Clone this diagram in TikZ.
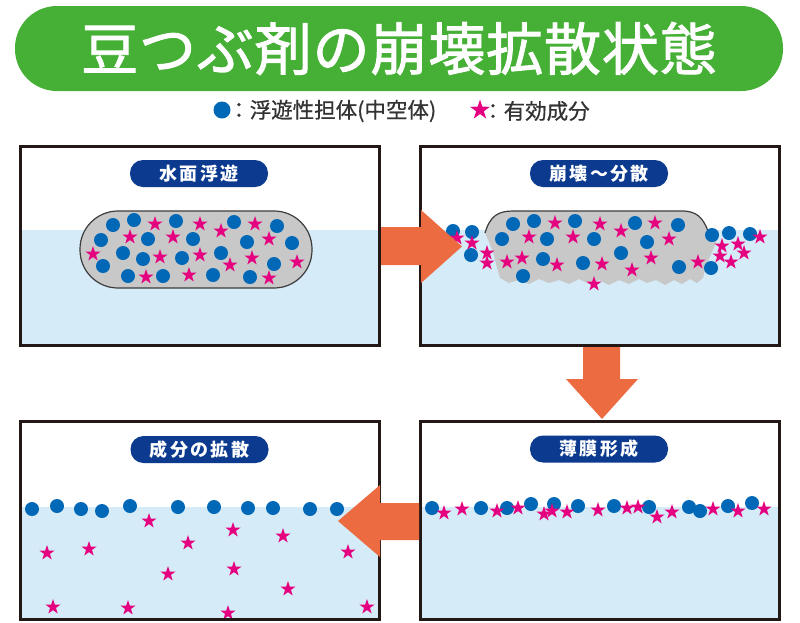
\documentclass[tikz,border=0pt]{standalone}
\usepackage{fontspec}
\usetikzlibrary{shapes.geometric}

\newfontfamily\jptitle{Noto Sans CJK JP}[LetterSpace=1.5, FakeBold=1.6]
\newfontfamily\jplabel{Noto Sans CJK JP}[LetterSpace=13]
\newfontfamily\jplegend{Noto Sans CJK JP}[FakeBold=0.6]

\definecolor{titlegreen}{HTML}{45B035}
\definecolor{labelnavy}{HTML}{0B3A8E}
\definecolor{carrier}{HTML}{0068B7}
\definecolor{agent}{HTML}{E4007F}
\definecolor{floworange}{HTML}{EC6B40}
\definecolor{water}{HTML}{D5EBF8}
\definecolor{capsulegray}{HTML}{C8C8C8}
\definecolor{capsuleline}{HTML}{3C3C3C}
\definecolor{framecol}{HTML}{231815}
\definecolor{legendgray}{HTML}{333333}

\tikzset{
  titlebar/.style={fill=titlegreen, rounded corners=42pt, minimum width=768pt,
    minimum height=85pt, inner sep=0pt, text=white,
    font={\jptitle\fontsize{57}{60}\selectfont}},
  stagelabel/.style={fill=labelnavy, rounded corners=13pt, minimum width=138pt,
    minimum height=27pt, inner sep=0pt, text=white,
    font={\jplabel\bfseries\fontsize{18}{20}\selectfont}},
  legendtext/.style={anchor=west, inner sep=0pt, text=legendgray,
    font={\jplegend\fontsize{21.5}{24}\selectfont}},
  carrierdot/.style={circle, fill=carrier, minimum size=14pt, inner sep=0pt},
  agentstar/.style={star, star points=5, star point ratio=2.6, fill=agent,
    minimum size=16pt, inner sep=0pt},
  panelframe/.style={draw=framecol, line width=3pt},
  waterfill/.style={fill=water},
  capsulebody/.style={fill=capsulegray, draw=capsuleline, line width=1.2pt},
  flowarrow/.style={fill=floworange},
}

\begin{document}
\begin{tikzpicture}[x=1pt, y=-1pt]
\useasboundingbox (0,0) rectangle (800,622);
\fill[white] (0,0) rectangle (800,622);

% ---- title bar and legend ----
\node[titlebar] (title) at (399,48.5) {豆つぶ剤の崩壊拡散状態};

\node[carrierdot, minimum size=17pt] (legdot) at (222,110) {};
\node[legendtext] (legdottext) at (228,111) {：浮遊性担体(中空体)};
\node[agentstar, minimum size=21pt] (legstar) at (480,110) {};
\node[legendtext] (legstartext) at (482,111) {：有効成分};

% ---- panel 1: floating on the water surface ----
\fill[waterfill] (20.5,230) rectangle (379.5,345.5);
\draw[capsulebody, rounded corners=38pt] (80,211) rectangle (312,288);
\foreach \x/\y [count=\i] in {113/225,134/220,176/221,234/222,277/226,101/240,
    148/239,193/239,247/242,292/243,123/253,143/259,182/258,221/253,103/266,
    274/264,128/276,163/276,213/275,250/277}
  \node[carrierdot] (pa-d\i) at (\x,\y) {};
\foreach \x/\y [count=\i] in {155/224,200/224,221/231,255/224,130/237,173/237,
    269/239,93/254,160/257,200/255,252/258,297/262,230/265,146/277,189/275,269/278}
  \node[agentstar] (pa-s\i) at (\x,\y) {};
\draw[panelframe] (20.5,146.5) rectangle (379.5,345.5);
\node[stagelabel] (labela) at (199,173.5) {水面浮遊};

% ---- panel 2: breaking up and dispersing ----
\fill[waterfill] (420.5,230) rectangle (779.5,345.5);
\fill[capsulegray] (485,233) .. controls (490,216) and (498,211) .. (513,211)
  -- (682,211) .. controls (697,211) and (703,218) .. (708,231)
  -- (718,238) -- (712,252) -- (706,266) -- (703,278)
  -- (697,283) -- (690,279) -- (682,284) -- (674,280) -- (665,285)
  -- (656,280) -- (647,283) -- (639,279) -- (629,284) -- (619,280)
  -- (609,285) -- (599,280) -- (589,284) -- (579,279) -- (569,284)
  -- (559,280) -- (549,283) -- (539,279) -- (529,284) -- (519,280)
  -- (509,283) -- (500,278) -- (497,268) -- (494,255) -- (489,242) -- cycle;
\draw[draw=capsuleline, line width=1.2pt]
  (485,233) .. controls (490,216) and (498,211) .. (513,211)
  -- (682,211) .. controls (697,211) and (703,218) .. (708,231);
\foreach \x/\y [count=\i] in {453/231,472/232,513/224,534/221,575/221,635/223,
    678/225,502/239,547/239,594/239,647/242,712/235,729/233,750/234,471/255,
    543/259,583/263,621/253,679/267,711/268,523/276}
  \node[carrierdot] (pb-d\i) at (\x,\y) {};
\foreach \x/\y [count=\i] in {555/223,600/224,621/231,655/223,529/237,573/237,
    669/239,472/243,457/238,487/253,487/263,507/262,522/258,557/265,602/264,
    651/258,632/270,594/284,698/262,722/246,738/244,720/256,744/253,731/262,760/237}
  \node[agentstar] (pb-s\i) at (\x,\y) {};
\draw[panelframe] (420.5,146.5) rectangle (779.5,345.5);
\node[stagelabel] (labelb) at (599,173.5) {崩壊〜分散};

% ---- panel 3: thin film on the surface ----
\fill[waterfill] (420.5,507) rectangle (779.5,619.5);
\foreach \x/\y [count=\i] in {432/508,481/508,507/508,531/504,554/504,578/506,
    614/506,649/507,689/507,700/511,728/506,752/503}
  \node[carrierdot] (pc-d\i) at (\x,\y) {};
\foreach \x/\y [count=\i] in {444/513,462/509,497/511,518/508,544/514,552/511,
    567/512,598/510,627/508,638/507,657/517,672/512,713/509,738/511,764/509}
  \node[agentstar] (pc-s\i) at (\x,\y) {};
\draw[panelframe] (420.5,421.5) rectangle (779.5,619.5);
\node[stagelabel] (labelc) at (599,449) {薄膜形成};

% ---- panel 4: active ingredient spreading ----
\fill[waterfill] (20.5,507) rectangle (379.5,619.5);
\foreach \x/\y [count=\i] in {32/509,57/506,81/509,102/511,130/506,178/507,
    214/507,248/508,273/508,310/509,337/509}
  \node[carrierdot] (pd-d\i) at (\x,\y) {};
\foreach \x/\y [count=\i] in {149/521,233/530,283/536,47/553,89/549,188/543,
    348/552,168/574,234/569,288/589,53/607,128/608,228/613,367/607}
  \node[agentstar] (pd-s\i) at (\x,\y) {};
\draw[panelframe] (20.5,421.5) rectangle (379.5,619.5);
\node[stagelabel] (labeld) at (199.5,449.5) {成分の拡散};

% ---- block arrows between the stages ----
\fill[flowarrow] (381,227) -- (421,227) -- (421,210) -- (462,246.5)
  -- (421,283) -- (421,265) -- (381,265) -- cycle;
\fill[flowarrow] (583,347) -- (583,379) -- (566,379) -- (602,419)
  -- (638,379) -- (620,379) -- (620,347) -- cycle;
\fill[flowarrow] (419,503) -- (380,503) -- (380,485) -- (338,521)
  -- (380,557) -- (380,540) -- (419,540) -- cycle;
\end{tikzpicture}
\end{document}
